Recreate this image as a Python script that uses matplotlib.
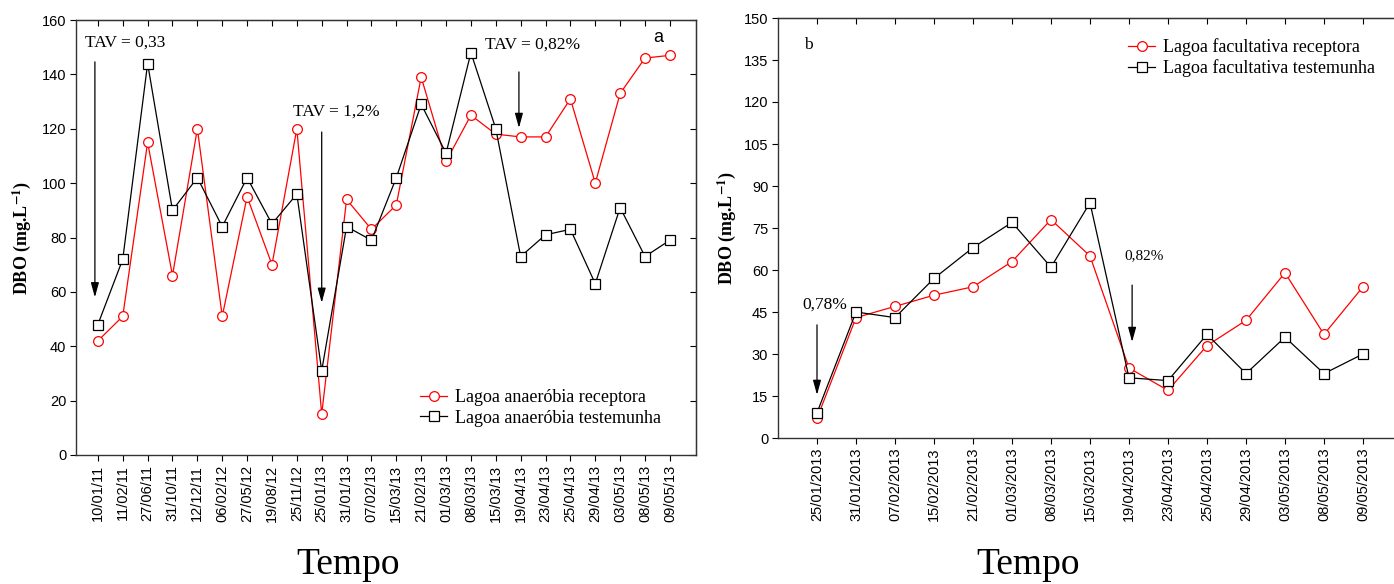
import matplotlib
matplotlib.use("Agg")
import matplotlib.pyplot as plt

# Panel a: anaerobic ponds
dates_a = ["10/01/11", "11/02/11", "27/06/11", "31/10/11", "12/12/11", "06/02/12",
           "27/05/12", "19/08/12", "25/11/12", "25/01/13", "31/01/13", "07/02/13",
           "15/03/13", "21/02/13", "01/03/13", "08/03/13", "15/03/13", "19/04/13",
           "23/04/13", "25/04/13", "29/04/13", "03/05/13", "08/05/13", "09/05/13"]
receptora_a = [42, 51, 115, 66, 120, 51, 95, 70, 120, 15, 94, 83,
               92, 139, 108, 125, 118, 117, 117, 131, 100, 133, 146, 147]
testemunha_a = [48, 72, 144, 90, 102, 84, 102, 85, 96, 31, 84, 79,
                102, 129, 111, 148, 120, 73, 81, 83, 63, 91, 73, 79]

# Panel b: facultative ponds
dates_b = ["25/01/2013", "31/01/2013", "07/02/2013", "15/02/2013", "21/02/2013",
           "01/03/2013", "08/03/2013", "15/03/2013", "19/04/2013", "23/04/2013",
           "25/04/2013", "29/04/2013", "03/05/2013", "08/05/2013", "09/05/2013"]
receptora_b = [7, 43, 47, 51, 54, 63, 78, 65, 25, 17, 33, 42, 59, 37, 54]
testemunha_b = [9, 45, 43, 57, 68, 77, 61, 84, 21.5, 20.5, 37, 23, 36, 23, 30]

SERIF = "Liberation Serif"
SANS = "Liberation Sans"
W, H = 1394, 584


def px(x0, y0, x1, y1):
    """pixel box -> figure fraction [left, bottom, width, height]"""
    return [x0 / W, 1 - y1 / H, (x1 - x0) / W, (y1 - y0) / H]


def style_axes(ax, n, ymax, ystep):
    ax.set_xticks(range(n))
    ax.set_ylim(0, ymax)
    ax.set_yticks(range(0, ymax + 1, ystep))
    for s in ax.spines.values():
        s.set_linewidth(1.0)
        s.set_color("#333333")
    ax.tick_params(direction="out", length=4, width=0.8, labelsize=10.5, pad=3)
    for lab in ax.get_yticklabels():
        lab.set_fontfamily(SANS)
    # Statistica style: top/right ticks pointing inwards
    top = ax.secondary_xaxis("top")
    top.set_xticks(range(n))
    top.tick_params(direction="in", length=4, width=0.8, labeltop=False)
    right = ax.secondary_yaxis("right")
    right.set_yticks(range(0, ymax + 1, ystep))
    right.tick_params(direction="in", length=4, width=0.8, labelright=False)
    ax.set_ylabel(r"DBO (mg.L$^{\mathbf{-1}}$)", fontfamily=SERIF,
                  fontweight="bold", fontsize=13, va="center")


def arrow(ax, x, y0, y1):
    ax.annotate("", xy=(x, y1), xytext=(x, y0),
                arrowprops=dict(arrowstyle="-|>,head_length=0.8,head_width=0.22",
                                color="black", lw=0.9, mutation_scale=11,
                                shrinkA=0, shrinkB=0))


plt.rcParams["mathtext.fontset"] = "stix"
fig = plt.figure(figsize=(W / 100, H / 100), dpi=100)

# ---- left panel
ax1 = fig.add_axes(px(76, 20, 696, 455))
ax1.plot(range(len(dates_a)), receptora_a, color="red", lw=0.9, marker="o",
         ms=7, mfc="white", mec="red", mew=0.9, label="Lagoa anaeróbia receptora")
ax1.plot(range(len(dates_a)), testemunha_a, color="black", lw=0.9, marker="s",
         ms=7, mfc="white", mec="black", mew=0.9, label="Lagoa anaeróbia testemunha")
ax1.set_xlim(-0.88, len(dates_a) - 1 + 1.05)
style_axes(ax1, len(dates_a), 160, 20)
ax1.set_xticklabels(dates_a, rotation=90, fontfamily=SANS, fontsize=10.5)
ax1.yaxis.set_label_coords(-0.087, 0.5)

ax1.text(-0.52, 151.6, "TAV = 0,33", fontfamily=SERIF, fontsize=12.5, va="center")
ax1.text(7.85, 126.2, "TAV = 1,2%", fontfamily=SERIF, fontsize=12.5, va="center")
ax1.text(15.57, 150.8, "TAV = 0,82%", fontfamily=SERIF, fontsize=12.5, va="center")
ax1.text(22.52, 153.4, "a", fontfamily=SANS, fontsize=13, ha="center", va="center")
arrow(ax1, -0.12, 144.6, 58)
arrow(ax1, 9.0, 118.8, 56)
arrow(ax1, 16.93, 140.9, 120.3)

ax1.legend(loc="upper left", bbox_to_anchor=(420 / W, 1 - 389 / H),
           bbox_transform=fig.transFigure, frameon=False, borderpad=0,
           borderaxespad=0, handlelength=1.5, handletextpad=0.45,
           labelspacing=0.2, prop={"family": SERIF, "size": 13})

# ---- right panel (right spine falls just outside the picture)
ax2 = fig.add_axes(px(778, 18, 1402, 438))
ax2.plot(range(len(dates_b)), receptora_b, color="red", lw=0.9, marker="o",
         ms=7, mfc="white", mec="red", mew=0.9, label="Lagoa facultativa receptora")
ax2.plot(range(len(dates_b)), testemunha_b, color="black", lw=0.9, marker="s",
         ms=7, mfc="white", mec="black", mew=0.9, label="Lagoa facultativa testemunha")
ax2.set_xlim(-1, len(dates_b))
style_axes(ax2, len(dates_b), 150, 15)
ax2.set_xticklabels(dates_b, rotation=90, fontfamily=SANS, fontsize=10.5)
ax2.yaxis.set_label_coords(-0.083, 0.5)

ax2.text(-0.33, 140.4, "b", fontfamily=SERIF, fontsize=12.5, va="center")
ax2.text(-0.38, 47.5, "0,78%", fontfamily=SERIF, fontsize=12.5, va="center")
ax2.text(7.87, 65, "0,82%", fontfamily=SERIF, fontsize=11, va="center")
arrow(ax2, 0.0, 40.4, 15.4)
arrow(ax2, 8.08, 54.6, 34.3)

ax2.legend(loc="upper left", bbox_to_anchor=(1128 / W, 1 - 38 / H),
           bbox_transform=fig.transFigure, frameon=False, borderpad=0,
           borderaxespad=0, handlelength=1.5, handletextpad=0.45,
           labelspacing=0.2, prop={"family": SERIF, "size": 13})

fig.text(348 / W, 1 - 565 / H, "Tempo", fontfamily=SERIF, fontsize=27,
         ha="center", va="center")
fig.text(1028 / W, 1 - 565 / H, "Tempo", fontfamily=SERIF, fontsize=27,
         ha="center", va="center")

fig.savefig("out.png", dpi=100)
